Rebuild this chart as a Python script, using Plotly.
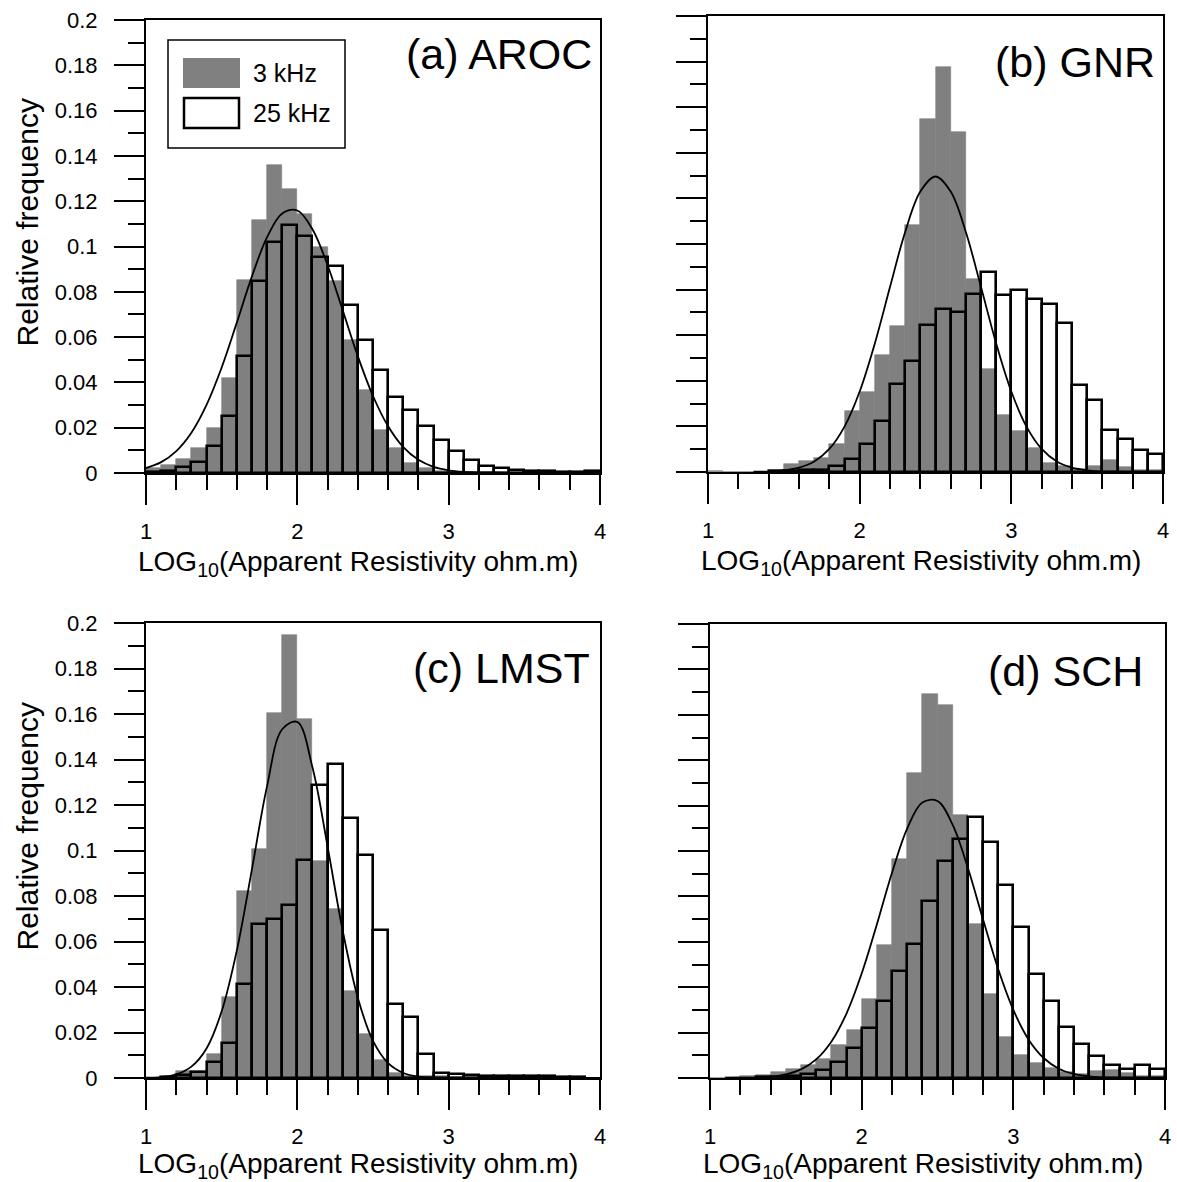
import plotly.graph_objects as go

W, H = 1177, 1182

# ---------------- data ----------------
bin_centers = [1.05, 1.15, 1.25, 1.35, 1.45, 1.55, 1.65, 1.75, 1.85, 1.95,
               2.05, 2.15, 2.25, 2.35, 2.45, 2.55, 2.65, 2.75, 2.85, 2.95,
               3.05, 3.15, 3.25, 3.35, 3.45, 3.55, 3.65, 3.75, 3.85, 3.95]
curve_x = [1.0, 1.1, 1.2, 1.3, 1.4, 1.5, 1.6, 1.7, 1.8, 1.9, 2.0,
           2.1, 2.2, 2.3, 2.4, 2.5, 2.6, 2.7, 2.8, 2.9, 3.0,
           3.1, 3.2, 3.3, 3.4, 3.5, 3.6, 3.7, 3.8, 3.9, 4.0]

series_names = ["3 kHz", "25 kHz"]
panel_labels = ["(a) AROC", "(b) GNR", "(c) LMST", "(d) SCH"]

aroc_3k = [0.002, 0.0037, 0.006, 0.011, 0.020, 0.042, 0.0854, 0.1115, 0.136, 0.1256,
           0.1144, 0.100, 0.0847, 0.0586, 0.0368, 0.0191, 0.011, 0.0044, 0.002, 0.001,
           0.0005, 0.0005, 0.0004, 0.0003, 0.0003, 0.0003, 0.0002, 0.0002, 0.0002, 0.0002]
aroc_25k = [0.0005, 0.001, 0.0025, 0.005, 0.012, 0.025, 0.0515, 0.0847, 0.102, 0.1097,
            0.1046, 0.0954, 0.0913, 0.0741, 0.0589, 0.0454, 0.0336, 0.028, 0.0209, 0.0147,
            0.0099, 0.0056, 0.0032, 0.0022, 0.0012, 0.001, 0.0007, 0.0006, 0.0005, 0.001]
aroc_fit = [0.0022, 0.0048, 0.0097, 0.0178, 0.0301, 0.0466, 0.0664, 0.0868, 0.1041, 0.1146, 0.1159,
            0.1076, 0.0917, 0.0718, 0.0515, 0.0340, 0.0206, 0.0114, 0.0058, 0.0027, 0.0012,
            0.0005, 0.0002, 0.0001, 0, 0, 0, 0, 0, 0, 0]

gnr_3k = [0.0005, 0, 0, 0, 0.001, 0.0034, 0.0048, 0.0063, 0.0122, 0.0268,
          0.0351, 0.0512, 0.064, 0.1083, 0.155, 0.1776, 0.149, 0.0845, 0.045, 0.0249,
          0.0179, 0.0107, 0.004, 0.0025, 0.0015, 0.0025, 0.0054, 0.002, 0.001, 0.001]
gnr_25k = [None, None, None, None, 0.0005, 0.0005, 0.0008, 0.001, 0.0025, 0.0056,
           0.0122, 0.0223, 0.0388, 0.0486, 0.0644, 0.0714, 0.0703, 0.0779, 0.0878, 0.0776,
           0.0798, 0.0757, 0.0736, 0.0654, 0.0381, 0.0315, 0.0186, 0.0146, 0.0098, 0.0081]
gnr_fit = [None, None, None, 0.0001, 0.0002, 0.0007, 0.0019, 0.0046, 0.0101, 0.0199, 0.0353,
           0.0564, 0.0811, 0.1053, 0.1230, 0.1296, 0.1230, 0.1053, 0.0811, 0.0564, 0.0353,
           0.0199, 0.0101, 0.0046, 0.0019, 0.0007, 0.0002, 0.0001, 0, 0, 0]

lmst_3k = [0.0002, 0.0005, 0.003, 0.003, 0.0105, 0.0355, 0.082, 0.1007, 0.1604, 0.1949,
           0.158, 0.0952, 0.0743, 0.0384, 0.0193, 0.008, 0.002, 0.001, 0.0008, 0.0007,
           0.0006, 0.0005, 0.0005, 0.0004, 0.0004, 0.0003, 0.0003, 0.0002, 0.0002, 0.0001]
lmst_25k = [None, 0.0005, 0.0015, 0.0025, 0.0069, 0.0154, 0.0415, 0.0678, 0.0699, 0.0762,
            0.0957, 0.1289, 0.138, 0.1143, 0.0979, 0.0652, 0.0325, 0.0267, 0.0105, 0.0022,
            0.0019, 0.0015, 0.001, 0.001, 0.0008, 0.0008, 0.0007, 0.0005, 0.0003, None]
lmst_fit = [0.0001, 0.0004, 0.0016, 0.0050, 0.0130, 0.0293, 0.0560, 0.0917, 0.1283, 0.1533, 0.1565,
            0.1365, 0.1017, 0.0647, 0.0352, 0.0163, 0.0065, 0.0022, 0.0006, 0.0002, 0,
            0, 0, 0, 0, 0, 0, 0, 0, 0, 0]

sch_3k = [0, 0.0005, 0.0008, 0.0012, 0.0026, 0.0038, 0.0056, 0.0085, 0.0147, 0.0213,
          0.0346, 0.0588, 0.0965, 0.1343, 0.1691, 0.1644, 0.1159, 0.0678, 0.0368, 0.0181,
          0.0103, 0.0066, 0.0044, 0.0026, 0.0019, 0.0031, 0.0037, 0.002, 0.001, 0.001]
sch_25k = [None, None, None, 0.0003, 0.0005, 0.0007, 0.0016, 0.0034, 0.0071, 0.0132,
           0.0221, 0.0338, 0.0472, 0.059, 0.0779, 0.0956, 0.1053, 0.1151, 0.1041, 0.085,
           0.0666, 0.0457, 0.034, 0.0225, 0.0151, 0.0096, 0.0059, 0.0041, 0.0056, 0.0041]
sch_fit = [None, 0, 0.0001, 0.0002, 0.0006, 0.0016, 0.0038, 0.0082, 0.0160, 0.0284, 0.0460,
           0.0676, 0.0904, 0.1099, 0.1214, 0.1220, 0.1115, 0.0926, 0.0699, 0.0480, 0.0300,
           0.0170, 0.0088, 0.0041, 0.0018, 0.0007, 0.0002, 0.0001, 0, 0, 0]

x_tick_vals = [1, 2, 3, 4]
x_tick_text = ["1", "2", "3", "4"]
y_tick_vals = [0, 0.02, 0.04, 0.06, 0.08, 0.1, 0.12, 0.14, 0.16, 0.18, 0.2]
y_tick_text = ["0", "0.02", "0.04", "0.06", "0.08", "0.1", "0.12", "0.14", "0.16", "0.18", "0.2"]

x_title = "LOG<sub>10</sub>(Apparent Resistivity ohm.m)"
y_title = "Relative frequency"

# ---------------- styling / layout ----------------
GREY = "#808080"
FONT = "Arial"

def fx(p):
    return p / W

def fy(p):
    return 1 - p / H

# left, right, top, bottom (pixels)
boxes = [(146, 600, 20, 473), (708, 1163, 16, 472),
         (146, 600, 623, 1078), (710, 1165, 624, 1078)]
label_pos = [(594, 54), (1157, 62), (592, 668), (1145, 671)]
xtitle_off = [90, 90, 87, 87]

datasets = [(aroc_3k, aroc_25k, aroc_fit), (gnr_3k, gnr_25k, gnr_fit),
            (lmst_3k, lmst_25k, lmst_fit), (sch_3k, sch_25k, sch_fit)]

fig = go.Figure()
layout_axes = {}
annotations = []

for i, ((g, o, c), box, lab, lp) in enumerate(zip(datasets, boxes, panel_labels, label_pos)):
    xa = "x" if i == 0 else f"x{i+1}"
    ya = "y" if i == 0 else f"y{i+1}"
    fig.add_trace(go.Bar(x=bin_centers, y=g, width=0.1, name=series_names[0],
                         marker=dict(color=GREY, line=dict(color=GREY, width=0.6)),
                         xaxis=xa, yaxis=ya, showlegend=False, hoverinfo="skip"))
    fig.add_trace(go.Bar(x=bin_centers, y=o, width=0.1, name=series_names[1],
                         marker=dict(color="rgba(0,0,0,0)", line=dict(color="black", width=2.6)),
                         xaxis=xa, yaxis=ya, showlegend=False, hoverinfo="skip"))
    fig.add_trace(go.Scatter(x=curve_x, y=c, mode="lines",
                             line=dict(color="black", width=1.8, shape="spline"),
                             xaxis=xa, yaxis=ya, showlegend=False, hoverinfo="skip",
                             connectgaps=False))
    l, r, t, b = box
    show_ylabels = (i % 2 == 0)
    xkey = "xaxis" if i == 0 else f"xaxis{i+1}"
    ykey = "yaxis" if i == 0 else f"yaxis{i+1}"
    layout_axes[xkey] = dict(
        domain=[fx(l), fx(r)], anchor=ya, range=[1, 4], automargin=False,
        tickmode="array", tickvals=x_tick_vals, ticktext=x_tick_text,
        ticks="outside", ticklen=30, tickwidth=2, tickcolor="black",
        showline=True, linewidth=2, linecolor="black", mirror=True,
        showgrid=False, zeroline=False, ticklabelstandoff=8,
        tickfont=dict(family=FONT, size=22, color="black"),
        minor=dict(tickmode="linear", tick0=0, dtick=0.2, ticks="outside",
                   ticklen=15, tickwidth=2, tickcolor="black", showgrid=False),
    )
    layout_axes[ykey] = dict(
        domain=[fy(b), fy(t)], anchor=xa, range=[0, 0.2], automargin=False,
        tickmode="array", tickvals=y_tick_vals, ticktext=y_tick_text,
        ticks="outside", ticklen=30, tickwidth=2, tickcolor="black",
        showline=True, linewidth=2, linecolor="black", mirror=True,
        showgrid=False, zeroline=False, showticklabels=show_ylabels,
        ticklabelstandoff=12,
        tickfont=dict(family=FONT, size=22, color="black"),
        minor=dict(tickmode="linear", tick0=0, dtick=0.01, ticks="outside",
                   ticklen=16, tickwidth=2, tickcolor="black", showgrid=False),
    )
    # panel label
    annotations.append(dict(text=lab, x=fx(lp[0]), y=fy(lp[1]), xref="paper", yref="paper",
                            xanchor="right", yanchor="middle", showarrow=False,
                            font=dict(family=FONT, size=43, color="black")))
    # x title
    annotations.append(dict(text=x_title, x=fx((l + r) / 2 - 15), y=fy(b + xtitle_off[i]),
                            xref="paper", yref="paper", xanchor="center", yanchor="middle",
                            showarrow=False, font=dict(family=FONT, size=28, color="black")))
    if show_ylabels:
        annotations.append(dict(text=y_title, x=fx(27), y=fy((t + b) / 2 - 24), xref="paper",
                                yref="paper", xanchor="center", yanchor="middle", textangle=-90,
                                showarrow=False, font=dict(family=FONT, size=30, color="black")))

# legend (panel a), drawn manually
shapes = [
    dict(type="rect", xref="paper", yref="paper", x0=fx(168), x1=fx(345), y0=fy(148), y1=fy(40),
         line=dict(color="black", width=1.5), fillcolor="white"),
    dict(type="rect", xref="paper", yref="paper", x0=fx(183), x1=fx(240), y0=fy(88), y1=fy(58),
         line=dict(width=0), fillcolor=GREY),
    dict(type="rect", xref="paper", yref="paper", x0=fx(184), x1=fx(239), y0=fy(128), y1=fy(98),
         line=dict(color="black", width=2.5), fillcolor="white"),
]
annotations.append(dict(text=series_names[0], x=fx(251), y=fy(73), xref="paper", yref="paper",
                        xanchor="left", yanchor="middle", showarrow=False,
                        font=dict(family=FONT, size=25, color="black")))
annotations.append(dict(text=series_names[1], x=fx(251), y=fy(113), xref="paper", yref="paper",
                        xanchor="left", yanchor="middle", showarrow=False,
                        font=dict(family=FONT, size=25, color="black")))

fig.update_layout(
    width=W, height=H, margin=dict(l=0, r=0, t=0, b=0, autoexpand=False),
    paper_bgcolor="white", plot_bgcolor="white",
    barmode="overlay", bargap=0, showlegend=False,
    annotations=annotations, shapes=shapes,
    **layout_axes,
)

fig.write_html("out.html", config={"displayModeBar": False},
               post_script="document.body.style.margin='0';document.body.style.overflow='hidden';")
